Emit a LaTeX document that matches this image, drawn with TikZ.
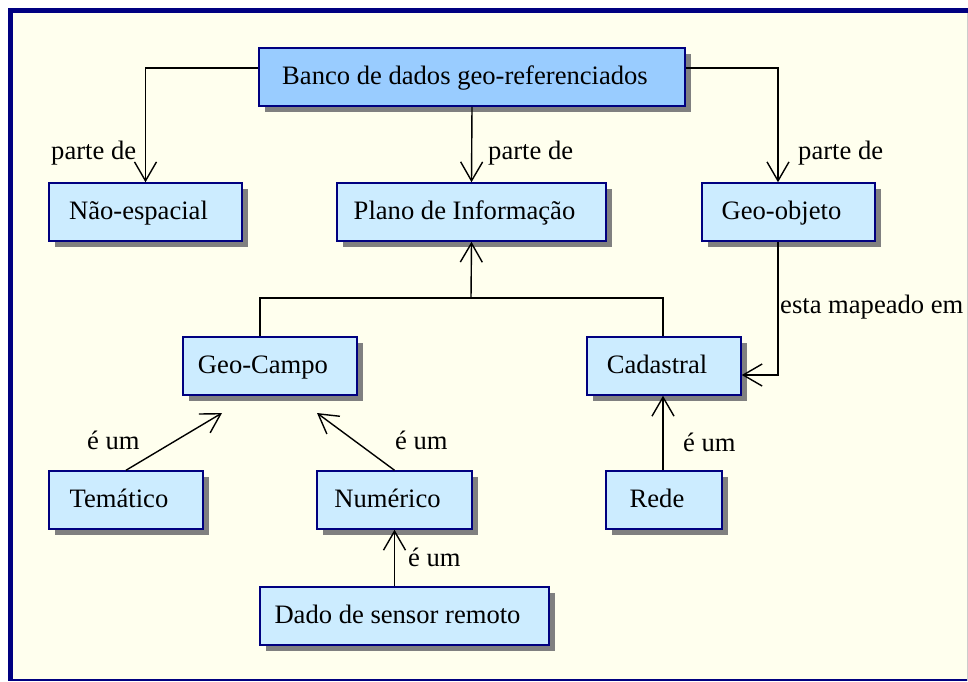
\documentclass[tikz,border=0pt]{standalone}
\usepackage{fontspec}
\setmainfont{Liberation Serif}
\usetikzlibrary{arrows.meta,shadows}
\definecolor{navy}{HTML}{000080}
\definecolor{cream}{HTML}{FFFFEE}
\definecolor{lblue}{HTML}{CCECFF}
\definecolor{mblue}{HTML}{99CCFF}
\definecolor{shadowgray}{HTML}{808080}
\tikzset{
  box/.style={draw=navy, line width=1.5pt, fill=lblue, rectangle, inner sep=0pt,
    minimum height=58pt, font=\fontsize{26.6}{30}\selectfont,
    text height=20pt, text depth=6pt,
    execute at begin node=\hspace*{-14pt},
    drop shadow={shadow xshift=6pt, shadow yshift=-6pt, fill=shadowgray, opacity=1}},
  conn/.style={line width=1.4pt, black},
  arr/.style={conn, -{Straight Barb[length=19pt,width=22pt,line width=1.4pt]}},
  lbl/.style={font=\fontsize{26.6}{30}\selectfont, inner sep=0pt, anchor=west}
}
\begin{document}
\begin{tikzpicture}[x=1pt,y=-1pt]
\useasboundingbox (0,0) rectangle (968,681);
\fill[white] (0,0) rectangle (968,681);
\fill[cream] (8,8) rectangle (967,681);
\fill[navy] (8,8) rectangle (968,13);
\fill[navy] (8,8) rectangle (13,681);
\fill[navy] (8,679) rectangle (967,681);
\draw[gray!40, line width=1pt] (967.5,13) -- (967.5,681);

\node[box, fill=mblue, minimum width=426pt] (banco) at (472,77) {Banco de dados geo-referenciados};
\node[box, minimum width=193pt] (nao) at (145.5,212) {Não-espacial};
\node[box, minimum width=269pt] (plano) at (471.5,212) {Plano de Informação};
\node[box, minimum width=173pt] (geoobj) at (788.5,212) {Geo-objeto};
\node[box, minimum width=174pt] (geocampo) at (270,366) {Geo-Campo};
\node[box, minimum width=154pt] (cad) at (664,366) {Cadastral};
\node[box, minimum width=154pt] (tem) at (126,500) {Temático};
\node[box, minimum width=155pt] (num) at (394.5,500) {Numérico};
\node[box, minimum width=116pt] (rede) at (664,500) {Rede};
\node[box, minimum width=289pt] (dado) at (404.5,616) {Dado de sensor remoto};

\coordinate (jn) at (471,298);
\coordinate (temend) at (222,413);
\coordinate (numend) at (317,413);

% parte de
\draw[arr] ([yshift=9pt]banco.west) -| (nao.north);
\draw[arr] (banco.south) -- (plano.north);
\draw[arr] ([yshift=9pt]banco.east) -| ([xshift=-10.5pt]geoobj.north);

% Plano <- Geo-Campo, Cadastral
\draw[conn] ([xshift=-10pt]geocampo.north) |- (jn);
\draw[conn] ([xshift=-1pt]cad.north) |- (jn);
\draw[arr] (jn) -- (plano.south);

% esta mapeado em
\draw[arr] ([xshift=-10.5pt]geoobj.south) |- ([yshift=-9pt]cad.east);

% é um
\draw[arr] (tem.north) -- (temend);
\draw[arr] (num.north) -- (numend);
\draw[arr] (dado.north -| num.north) -- (num.south);
\draw[arr] ([xshift=-1pt]rede.north) -- ([xshift=-1pt]cad.south);

\node[lbl] (l1) at (51,153) {parte de};
\node[lbl] (l2) at (488,153) {parte de};
\node[lbl] (l3) at (798,153) {parte de};
\node[lbl] (l4) at (780,307) {esta mapeado em};
\node[lbl] (l5) at (87,440) {é um};
\node[lbl] (l6) at (395,440) {é um};
\node[lbl] (l7) at (408,557) {é um};
\node[lbl] (l8) at (683,442) {é um};
\end{tikzpicture}
\end{document}
